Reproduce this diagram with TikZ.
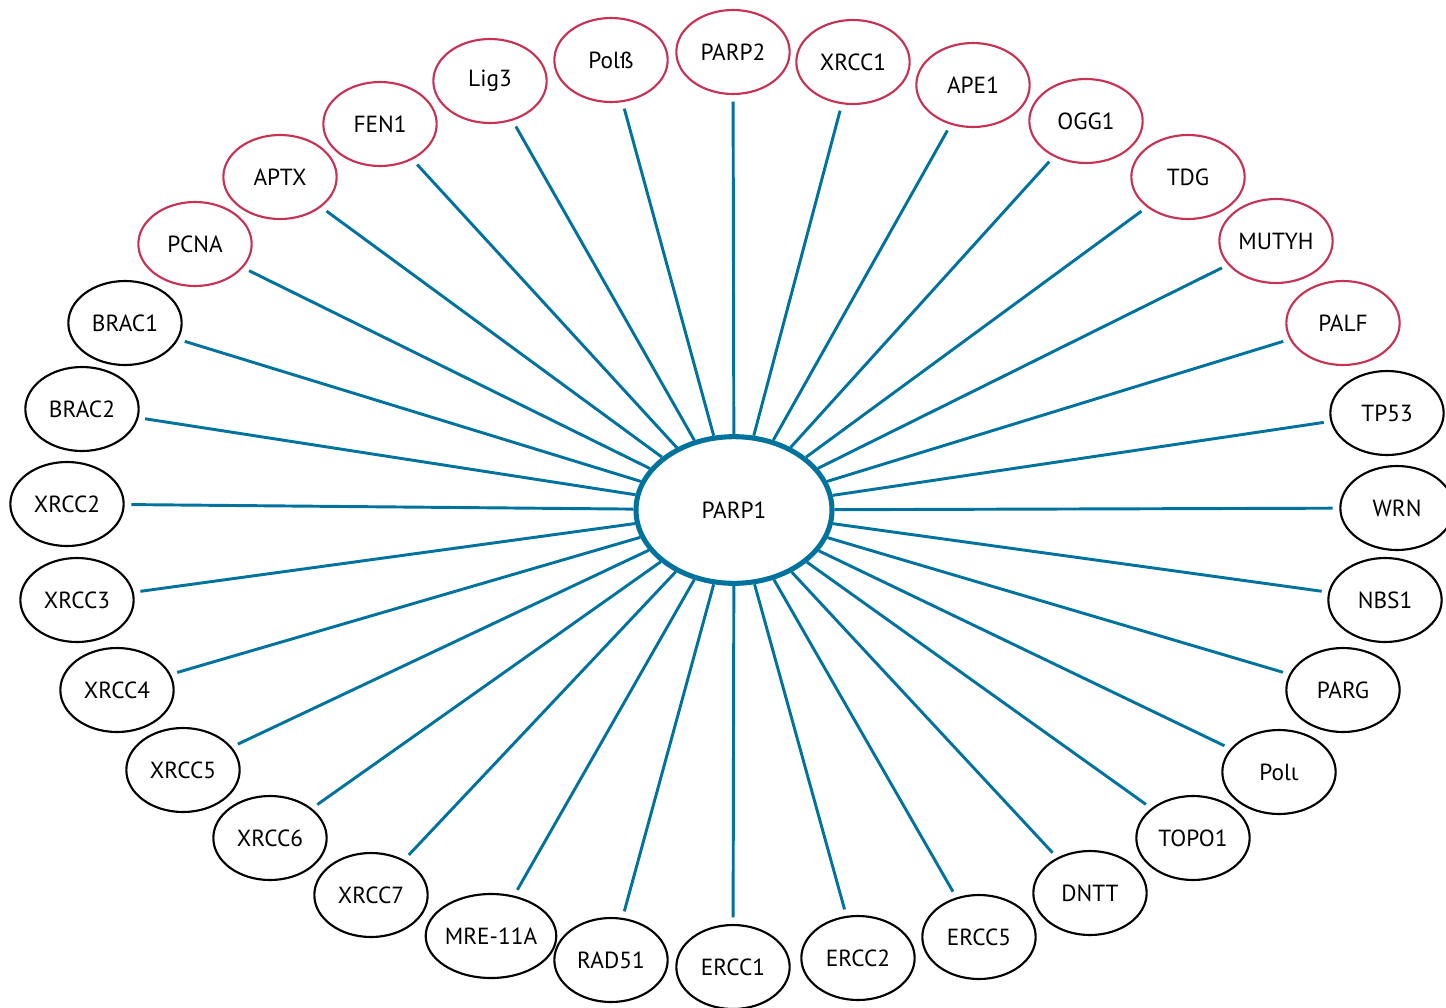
\documentclass[tikz,border=0pt]{standalone}
\usepackage{xcolor}
\usepackage{fontspec}
\setmainfont{PT Sans}
\newfontfamily\greekfont{Open Sans}
\usetikzlibrary{shapes.geometric}
\definecolor{ringred}{RGB}{200,50,82}
\definecolor{linkteal}{RGB}{0,114,158}

\begin{document}
\begin{tikzpicture}[x=0.75pt,y=-0.75pt,
	font=\fontsize{17.5}{20}\selectfont,
	gene/.style={ellipse,draw=black,line width=1.6pt,inner sep=0pt,minimum width=85pt,minimum height=63pt},
	redgene/.style={gene,draw=ringred},
	hub/.style={ellipse,draw=linkteal,line width=3.8pt,fill=white,inner sep=0pt,minimum width=147pt,minimum height=110pt},
	link/.style={draw=linkteal,line width=2.2pt,shorten >=5pt}]
	\useasboundingbox (0,0) rectangle (1446,1007);
	\node[hub] at (734,510) (parp1) {PARP1};
	% repair partners drawn in red
	\node[redgene] at (195,244) (pcna) {PCNA};
	\node[redgene] at (280,177) (aptx) {APTX};
	\node[redgene] at (380,124) (fen1) {FEN1};
	\node[redgene] at (490,81) (lig3) {Lig3};
	\node[redgene] at (611,60) (polb) {Polß};
	\node[redgene] at (733,52) (parp2) {PARP2};
	\node[redgene] at (853,62) (xrcc1) {XRCC1};
	\node[redgene] at (973,85) (ape1) {APE1};
	\node[redgene] at (1086,121) (ogg1) {OGG1};
	\node[redgene] at (1188,177) (tdg) {TDG};
	\node[redgene] at (1276,241) (mutyh) {MUTYH};
	\node[redgene] at (1343,323) (palf) {PALF};
	% the rest in black
	\node[gene] at (125,323) (brac1) {BRAC1};
	\node[gene] at (82,409) (brac2) {BRAC2};
	\node[gene] at (67,504) (xrcc2) {XRCC2};
	\node[gene] at (77,600) (xrcc3) {XRCC3};
	\node[gene] at (117,690) (xrcc4) {XRCC4};
	\node[gene] at (183,770) (xrcc5) {XRCC5};
	\node[gene] at (270,838) (xrcc6) {XRCC6};
	\node[gene] at (371,895) (xrcc7) {XRCC7};
	\node[gene] at (491,936) (mre11a) {MRE-11A};
	\node[gene] at (611,960) (rad51) {RAD51};
	\node[gene] at (733,967) (ercc1) {ERCC1};
	\node[gene] at (858,958) (ercc2) {ERCC2};
	\node[gene] at (979,937) (ercc5) {ERCC5};
	\node[gene] at (1090,893) (dntt) {DNTT};
	\node[gene] at (1193,838) (topo1) {TOPO1};
	\node[gene] at (1279,772) (poli) {Pol{\greekfont ι}};
	\node[gene] at (1343,690) (parg) {PARG};
	\node[gene] at (1385,600) (nbs1) {NBS1};
	\node[gene] at (1397,508) (wrn) {WRN};
	\node[gene] at (1387,413) (tp53) {TP53};
	% spokes
	\draw[link] (parp1) -- (pcna);
	\draw[link] (parp1) -- (aptx);
	\draw[link] (parp1) -- (fen1);
	\draw[link] (parp1) -- (lig3);
	\draw[link] (parp1) -- (polb);
	\draw[link] (parp1) -- (parp2);
	\draw[link] (parp1) -- (xrcc1);
	\draw[link] (parp1) -- (ape1);
	\draw[link] (parp1) -- (ogg1);
	\draw[link] (parp1) -- (tdg);
	\draw[link] (parp1) -- (mutyh);
	\draw[link] (parp1) -- (palf);
	\draw[link] (parp1) -- (brac1);
	\draw[link] (parp1) -- (brac2);
	\draw[link] (parp1) -- (xrcc2);
	\draw[link] (parp1) -- (xrcc3);
	\draw[link] (parp1) -- (xrcc4);
	\draw[link] (parp1) -- (xrcc5);
	\draw[link] (parp1) -- (xrcc6);
	\draw[link] (parp1) -- (xrcc7);
	\draw[link] (parp1) -- (mre11a);
	\draw[link] (parp1) -- (rad51);
	\draw[link] (parp1) -- (ercc1);
	\draw[link] (parp1) -- (ercc2);
	\draw[link] (parp1) -- (ercc5);
	\draw[link] (parp1) -- (dntt);
	\draw[link] (parp1) -- (topo1);
	\draw[link] (parp1) -- (poli);
	\draw[link] (parp1) -- (parg);
	\draw[link] (parp1) -- (nbs1);
	\draw[link] (parp1) -- (wrn);
	\draw[link] (parp1) -- (tp53);
\end{tikzpicture}
\end{document}
